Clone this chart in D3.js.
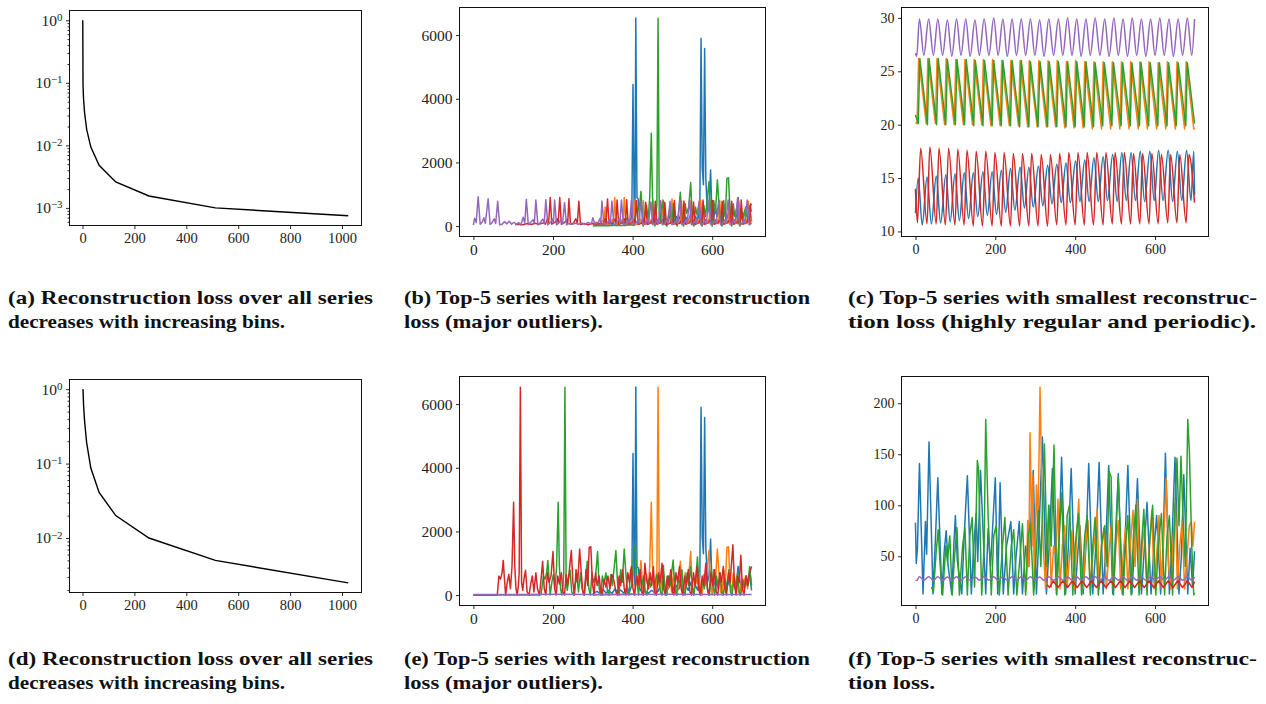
<!DOCTYPE html>
<html>
<head>
<meta charset="utf-8">
<script src="https://cdn.jsdelivr.net/npm/d3@7"></script>
<style>
  body { margin: 0; background: #fff; }
  .tick text { fill: #222; }
</style>
</head>
<body>
<svg id="fig" width="1266" height="704"></svg>
<script>
// ---- panel (a) and (d): loss vs number of bins ----
var bins = [1, 2, 4, 8, 16, 32, 64, 128, 256, 512, 1024];
var lossA = [1.0, 0.09, 0.055, 0.033, 0.018, 0.0094, 0.0048, 0.0026, 0.00155, 0.001, 0.00075];
var lossD = [1.0, 0.97, 0.62, 0.37, 0.19, 0.087, 0.041, 0.020, 0.010, 0.0050, 0.0025];

// ---- panel (b): top-5 largest loss ----
var bBlue = [[300,40],[310,120],[318,60],[326,180],[333,60],[340,150],[348,50],[356,200],[362,70],[370,160],[378,60],[386,250],[392,90],[398,300],[401,4450],[404,600],[406,300],[408,6540],[411,900],[414,850],[418,200],[424,80],[432,120],[440,60],[448,150],[456,60],[464,120],[470,300],[476,820],[480,300],[486,150],[492,250],[498,520],[504,120],[510,300],[516,180],[522,420],[528,120],[534,280],[540,150],[546,400],[552,120],[558,300],[564,150],[569,600],[572,5900],[575,1800],[578,1300],[581,5580],[584,1500],[588,400],[592,600],[596,1760],[599,500],[603,200],[608,600],[612,300],[618,500],[624,200],[630,450],[636,150],[642,480],[648,200],[654,420],[660,250],[665,900],[670,400],[676,200],[682,500],[688,300],[694,600],[699,150]];
var bOrange = [[300,60],[306,120],[312,50],[320,100],[326,180],[328,80],[331,600],[335,40],[344,100],[350,220],[352,90],[355,900],[359,50],[368,100],[374,220],[376,90],[379,900],[383,50],[392,100],[398,200],[400,80],[403,850],[407,40],[416,90],[422,200],[424,80],[427,800],[431,50],[440,90],[446,200],[448,80],[451,820],[455,50],[464,100],[470,200],[472,80],[475,800],[479,50],[488,100],[494,220],[496,90],[499,850],[503,50],[512,100],[518,200],[520,80],[523,790],[527,50],[536,100],[542,200],[544,80],[547,800],[551,50],[560,100],[566,220],[568,90],[571,820],[575,50],[584,100],[590,200],[592,80],[595,780],[599,50],[608,100],[614,200],[616,80],[619,800],[623,50],[632,100],[638,220],[640,90],[643,820],[647,50],[656,100],[662,200],[664,80],[667,780],[671,50],[680,100],[686,200],[688,80],[691,780],[695,50],[699,300]];
var bGreen = [[300,0],[320,20],[340,10],[360,30],[380,20],[396,40],[404,20],[410,600],[414,500],[418,700],[421,1090],[424,500],[427,0],[431,400],[435,650],[439,200],[443,900],[447,2920],[450,900],[453,200],[456,0],[459,300],[461,700],[464,6530],[467,400],[470,150],[473,500],[477,780],[481,100],[486,0],[490,350],[494,600],[498,100],[503,700],[507,200],[512,0],[516,500],[520,1060],[524,200],[528,0],[532,700],[536,400],[541,600],[546,1370],[550,200],[554,0],[558,600],[562,350],[567,700],[571,100],[575,0],[579,650],[583,300],[588,900],[592,1400],[596,400],[600,0],[604,800],[608,400],[613,1450],[617,700],[621,100],[625,0],[629,800],[633,300],[637,1500],[641,1520],[645,400],[649,0],[653,700],[657,300],[662,600],[666,100],[670,0],[674,500],[679,250],[684,600],[689,200],[694,650],[699,450]];
var bRed = [[105,40],[115,60],[125,40],[135,80],[145,50],[155,90],[165,60],[175,100],[181,60],[186,230],[189,100],[193,900],[197,60],[205,120],[211,230],[213,100],[217,900],[221,60],[229,110],[235,200],[237,90],[240,860],[244,60],[252,100],[257,230],[261,90],[265,780],[269,50],[278,80],[288,40],[298,90],[308,50],[318,80],[326,60],[331,230],[333,100],[337,850],[341,60],[350,110],[356,220],[358,90],[361,820],[365,60],[374,100],[380,230],[382,90],[385,830],[389,60],[398,100],[404,200],[406,80],[410,800],[414,50],[422,90],[428,200],[430,80],[433,750],[437,60],[446,100],[452,220],[454,90],[457,780],[461,60],[470,100],[476,200],[478,80],[481,750],[485,50],[494,90],[500,200],[502,80],[505,800],[509,60],[518,90],[524,200],[526,80],[529,790],[533,60],[542,100],[548,200],[550,80],[553,760],[557,50],[566,100],[572,230],[574,90],[577,820],[581,60],[590,100],[596,220],[598,90],[601,800],[605,60],[614,100],[620,200],[622,80],[625,780],[629,60],[638,100],[644,200],[646,80],[649,780],[653,60],[662,100],[668,220],[670,90],[673,820],[677,60],[686,100],[692,230],[694,90],[697,700],[699,650]];
var bPurple = [[0,30],[3,250],[7,110],[12,920],[17,60],[22,120],[26,260],[30,90],[37,860],[42,50],[47,110],[52,230],[56,80],[61,780],[66,40],[72,60],[78,140],[84,70],[90,150],[96,60],[102,120],[108,60],[114,110],[119,30],[125,280],[129,90],[133,840],[138,40],[144,120],[150,200],[153,80],[157,820],[162,40],[168,100],[174,220],[178,80],[182,830],[187,40],[193,110],[199,220],[201,90],[204,820],[209,40],[214,90],[220,200],[224,70],[229,740],[234,40],[240,80],[248,60],[256,90],[264,60],[272,100],[280,50],[288,120],[296,60],[300,260],[305,70],[312,80],[318,240],[320,90],[323,790],[328,40],[336,90],[342,200],[344,80],[348,790],[353,40],[360,90],[366,220],[368,80],[372,820],[377,40],[384,90],[390,200],[392,80],[397,800],[402,40],[408,90],[414,200],[416,80],[421,780],[426,40],[432,90],[438,200],[440,80],[446,760],[451,40],[458,90],[463,200],[465,80],[470,800],[475,40],[482,90],[487,200],[489,80],[494,780],[499,40],[506,90],[511,200],[513,80],[519,800],[524,40],[530,90],[535,210],[537,80],[543,830],[548,40],[554,90],[559,200],[561,80],[567,780],[572,40],[578,90],[583,200],[585,80],[592,800],[597,40],[603,90],[608,200],[610,80],[616,780],[621,40],[627,90],[632,200],[634,80],[640,820],[645,40],[651,90],[656,210],[658,80],[664,900],[669,40],[675,90],[680,200],[682,80],[688,820],[693,40],[699,100]];

// ---- panel (c): top-5 smallest loss (turning points of periodic series) ----
var cBlue = [[0,11.7],[7,15.0],[17,10.6],[29,15.1],[40,10.7],[52,15.2],[63,10.8],[76,15.3],[87,10.9],[99,15.4],[110,11.0],[122,15.5],[133,11.2],[145,15.5],[156,11.4],[169,15.6],[180,11.5],[192,15.6],[203,11.6],[215,15.7],[226,11.8],[238,15.9],[249,12.0],[262,16.0],[273,12.2],[284,16.0],[295,12.3],[308,16.1],[319,12.4],[331,16.2],[342,12.6],[354,16.3],[365,12.7],[377,16.4],[388,12.7],[401,16.6],[412,12.8],[424,16.7],[435,12.8],[447,16.9],[458,12.8],[470,17.0],[481,12.9],[494,17.2],[505,12.8],[517,17.4],[528,12.9],[540,17.4],[551,12.9],[563,17.5],[574,12.8],[587,17.5],[598,12.9],[609,17.6],[620,12.9],[633,17.6],[644,12.8],[656,17.5],[667,12.9],[679,17.6],[690,12.9],[697,17.5],[699,13.4]];
var cOrange = [[0,20.2],[4,20.1],[8,26.2],[27,20.1],[31,26.2],[50,20.1],[54,26.2],[73,20.0],[77,26.2],[97,20.0],[101,26.1],[120,20.0],[124,26.1],[143,20.0],[147,26.1],[166,20.0],[170,26.1],[189,19.9],[193,26.1],[212,19.9],[216,26.0],[235,19.9],[239,26.0],[258,19.9],[262,26.0],[281,19.8],[285,26.0],[305,19.8],[309,26.0],[328,19.8],[332,26.0],[351,19.8],[355,26.0],[374,19.7],[378,25.9],[397,19.7],[401,26.0],[420,19.7],[424,25.9],[443,19.6],[447,25.9],[466,19.6],[470,25.9],[489,19.6],[493,25.9],[512,19.6],[516,25.9],[535,19.6],[539,25.9],[558,19.6],[562,25.9],[581,19.6],[585,25.9],[604,19.6],[608,25.8],[627,19.6],[631,25.9],[651,19.6],[655,25.9],[674,19.6],[678,25.9],[697,19.6],[699,19.7]];
var cGreen = [[0,20.9],[7,20.1],[11,26.2],[30,20.0],[34,26.2],[53,20.0],[57,26.2],[76,20.0],[80,26.1],[100,20.0],[104,26.1],[123,20.0],[127,26.1],[146,19.9],[150,26.0],[169,19.9],[173,26.0],[192,19.9],[196,26.0],[215,19.9],[219,26.0],[238,19.9],[242,26.0],[261,19.8],[265,26.0],[284,19.8],[288,25.9],[307,19.8],[312,25.9],[331,19.8],[335,25.9],[354,19.8],[358,25.9],[377,19.8],[381,25.9],[400,19.8],[404,25.9],[423,19.8],[427,25.9],[446,19.8],[450,25.8],[469,19.9],[473,25.8],[492,19.9],[496,25.8],[515,19.9],[519,25.8],[538,19.9],[542,25.8],[561,19.9],[565,25.8],[584,19.9],[588,25.8],[607,19.9],[611,25.8],[630,19.9],[634,25.8],[653,19.9],[658,25.8],[677,19.9],[681,25.8],[699,20.1]];
var cRed = [[0,14.0],[5,10.8],[13,17.8],[29,10.7],[36,17.9],[52,10.7],[59,17.8],[75,10.6],[83,17.8],[99,10.6],[106,17.7],[122,10.6],[129,17.6],[145,10.5],[152,17.5],[168,10.5],[176,17.5],[192,10.5],[199,17.4],[215,10.5],[222,17.4],[238,10.5],[245,17.3],[261,10.5],[268,17.3],[284,10.5],[291,17.3],[307,10.5],[315,17.2],[331,10.5],[338,17.2],[354,10.6],[361,17.3],[377,10.6],[384,17.4],[400,10.6],[407,17.4],[423,10.6],[430,17.4],[446,10.6],[454,17.4],[470,10.6],[477,17.4],[493,10.7],[500,17.4],[516,10.7],[523,17.4],[539,10.7],[546,17.3],[562,10.7],[569,17.3],[585,10.7],[592,17.3],[608,10.7],[616,17.2],[632,10.8],[639,17.2],[655,10.8],[662,17.2],[678,10.8],[685,17.2],[699,12.7]];
var cPurple = [[0,26.7],[3,26.4],[10,29.9],[21,26.5],[33,29.9],[45,26.5],[56,29.9],[68,26.5],[80,29.8],[91,26.4],[103,29.9],[114,26.5],[126,29.9],[137,26.4],[149,29.8],[160,26.5],[172,29.9],[184,26.5],[196,30.0],[207,26.5],[219,29.9],[230,26.4],[242,29.9],[253,26.5],[265,29.9],[276,26.5],[288,29.9],[299,26.5],[311,29.8],[322,26.4],[334,29.9],[346,26.5],[358,29.9],[369,26.5],[381,30.0],[392,26.5],[404,29.9],[415,26.4],[427,29.9],[438,26.5],[450,30.0],[462,26.5],[474,29.9],[485,26.4],[497,30.0],[508,26.5],[520,29.9],[531,26.4],[543,30.0],[554,26.5],[566,29.9],[577,26.4],[589,29.9],[600,26.5],[612,30.0],[623,26.5],[635,29.9],[646,26.4],[658,29.9],[669,26.5],[681,30.0],[692,26.5],[699,29.9]];

// ---- panel (e): top-5 largest loss, second run ----
var eBlue = bBlue;
var eOrange = bGreen;
var eGreen = [[0,0],[166,0],[170,20],[176,600],[180,500],[184,700],[187,1090],[190,500],[193,0],[197,400],[201,650],[205,200],[209,900],[213,2920],[216,900],[219,200],[222,0],[225,300],[227,700],[230,6530],[233,400],[236,150],[239,500],[243,780],[247,100],[252,0],[256,350],[260,600],[264,100],[269,700],[273,200],[278,0],[282,500],[286,1060],[290,200],[294,0],[298,700],[302,400],[307,600],[312,1370],[316,200],[320,0],[324,600],[328,350],[333,700],[337,100],[341,0],[345,650],[349,300],[354,900],[358,1400],[362,400],[366,0],[370,800],[374,400],[379,1450],[383,700],[387,100],[391,0],[395,800],[399,300],[403,1500],[407,1520],[411,400],[415,0],[419,700],[423,300],[428,600],[432,100],[436,0],[440,500],[445,250],[450,600],[455,200],[460,650],[465,450],[470,100],[474,0],[477,940],[481,300],[485,0],[490,600],[494,300],[498,700],[502,1100],[506,200],[510,0],[515,600],[519,300],[524,800],[528,100],[532,0],[537,700],[541,300],[546,900],[550,200],[554,0],[559,600],[563,1200],[567,300],[571,0],[576,500],[580,200],[585,700],[589,100],[593,0],[598,800],[602,300],[606,0],[611,600],[615,200],[620,700],[624,100],[628,0],[633,500],[637,200],[642,800],[646,100],[650,0],[655,600],[659,200],[664,700],[668,100],[672,0],[677,500],[681,200],[686,600],[690,300],[694,900],[699,300]];
var eRed = [[0,0],[60,0],[64,600],[68,500],[72,700],[75,1090],[78,500],[81,0],[85,400],[89,650],[93,200],[97,900],[101,2920],[104,900],[107,200],[110,0],[113,300],[115,700],[118,6530],[121,400],[124,150],[127,500],[131,780],[135,100],[140,0],[144,350],[148,600],[152,100],[157,700],[161,200],[166,0],[170,500],[174,1060],[178,200],[182,0],[186,700],[190,400],[195,600],[200,1370],[204,200],[208,0],[212,600],[216,350],[221,700],[225,100],[229,0],[233,650],[237,300],[242,900],[246,1400],[250,400],[254,0],[258,800],[262,400],[267,1450],[271,700],[275,100],[279,0],[283,800],[287,300],[291,1500],[295,1520],[299,400],[303,0],[307,700],[311,300],[316,600],[320,100],[324,0],[328,500],[333,250],[338,600],[343,200],[348,650],[353,450],[358,100],[362,0],[366,600],[370,300],[375,800],[379,200],[383,0],[388,700],[392,400],[397,900],[401,200],[405,0],[410,600],[414,300],[419,800],[423,100],[427,0],[431,1000],[435,500],[440,200],[444,700],[448,300],[452,900],[456,100],[460,0],[465,700],[469,400],[474,1000],[478,200],[482,0],[487,600],[491,300],[496,800],[500,100],[504,0],[509,700],[513,400],[518,900],[522,200],[526,0],[531,600],[535,300],[540,800],[544,100],[548,0],[553,700],[557,300],[562,900],[566,200],[570,0],[575,600],[579,300],[584,1000],[588,200],[592,0],[597,700],[601,300],[606,800],[610,100],[614,0],[619,700],[623,400],[628,900],[632,200],[636,0],[641,700],[645,400],[652,1580],[656,300],[660,0],[664,600],[668,400],[672,1250],[676,200],[680,0],[685,600],[689,300],[694,700],[699,900]];
var ePurple = [[0,20],[100,15],[200,25],[300,20],[400,15],[500,25],[600,20],[699,20]];

// ---- panel (f): top-5 smallest loss, second run ----
var fBlue = [[0,83],[2,43],[5,58],[10,141],[19,13],[25,84],[28,52],[34,162],[44,13],[50,67],[56,127],[66,13],[72,55],[77,75],[82,40],[91,13],[96,60],[100,90],[105,45],[116,13],[122,70],[130,129],[140,13],[146,60],[152,92],[156,45],[163,134],[176,13],[182,77],[188,40],[200,127],[206,13],[212,122],[220,13],[228,60],[239,84],[246,13],[252,50],[260,84],[268,13],[276,60],[284,40],[295,134],[303,13],[310,80],[318,167],[328,13],[335,60],[343,136],[353,13],[360,70],[366,147],[376,13],[383,60],[390,136],[400,13],[406,50],[412,80],[420,13],[427,60],[434,141],[444,13],[452,60],[460,142],[470,13],[476,55],[484,139],[494,13],[500,60],[508,131],[518,13],[524,55],[532,139],[542,13],[548,55],[556,126],[566,13],[572,50],[580,103],[590,13],[596,50],[604,90],[614,13],[620,55],[626,151],[636,13],[642,60],[650,147],[660,13],[666,50],[672,130],[682,13],[688,58],[694,20],[699,55]];
var fOrange = [[275,15],[278,20],[281,85],[284,40],[287,171],[292,60],[294,130],[298,18],[303,120],[307,80],[312,216],[316,130],[320,60],[326,18],[330,70],[334,100],[340,20],[346,60],[352,50],[357,106],[362,18],[368,60],[374,80],[380,20],[386,50],[392,75],[398,18],[404,70],[409,106],[414,40],[420,18],[426,60],[432,85],[438,18],[444,50],[450,70],[455,96],[460,18],[466,60],[472,78],[478,18],[484,50],[490,80],[496,18],[502,60],[508,85],[514,18],[520,50],[526,78],[532,18],[538,60],[545,95],[550,40],[556,106],[562,18],[568,60],[574,80],[580,18],[586,60],[592,95],[598,18],[604,50],[610,90],[616,18],[622,70],[628,127],[634,40],[640,18],[646,70],[651,102],[656,18],[662,60],[668,85],[674,18],[680,50],[686,80],[691,84],[695,60],[699,84]];
var fGreen = [[40,20],[45,15],[52,55],[57,76],[62,40],[68,12],[76,60],[80,45],[86,70],[92,12],[98,50],[104,78],[110,12],[118,60],[124,78],[130,12],[136,70],[142,88],[148,20],[155,144],[158,135],[166,12],[172,60],[176,184],[182,90],[190,12],[196,70],[202,80],[210,12],[218,60],[224,88],[232,12],[240,60],[246,76],[254,12],[262,50],[268,82],[276,12],[282,70],[288,82],[296,12],[302,50],[308,95],[314,40],[323,160],[330,40],[334,100],[340,60],[347,159],[354,12],[360,70],[366,112],[374,12],[380,90],[386,100],[394,12],[400,60],[408,92],[416,12],[424,70],[430,90],[438,12],[444,60],[450,88],[458,12],[466,60],[474,80],[480,40],[485,133],[490,128],[496,12],[502,70],[508,127],[514,60],[520,12],[526,60],[532,90],[540,12],[546,70],[552,100],[560,12],[566,60],[572,96],[580,12],[586,60],[594,100],[602,12],[608,60],[616,92],[624,12],[630,70],[636,90],[644,12],[650,100],[655,146],[660,80],[665,148],[670,90],[676,40],[682,184],[686,154],[692,60],[697,12],[699,14]];
var fRed = [[330,22],[336,19.5],[345,26],[357,19.5],[369,26],[381,19.5],[393,26],[405,19.5],[417,26],[429,19.5],[441,26],[453,19.5],[465,26],[477,19.5],[489,26],[501,19.5],[513,26],[525,19.5],[537,26],[549,19.5],[561,26],[573,19.5],[585,26],[597,19.5],[609,26],[621,19.5],[633,26],[645,19.5],[657,26],[669,19.5],[681,26],[693,19.5],[699,25]];
var fPurple = cPurple;

var C = {blue: "#1f77b4", orange: "#ff7f0e", green: "#2ca02c", red: "#d62728", purple: "#9467bd"};

var svg = d3.select("#fig");
var serif = "'Liberation Serif', 'Times New Roman', serif";

function drawFrame(box) {
    svg.append("rect")
        .attr("x", box.left).attr("y", box.top)
        .attr("width", box.right - box.left).attr("height", box.bottom - box.top)
        .attr("fill", "none").attr("stroke", "#111").attr("stroke-width", 1);
}

function styleAxis(g, fs) {
    g.select(".domain").remove();
    g.selectAll(".tick line").attr("stroke", "#111").attr("stroke-width", 0.9);
    g.selectAll(".tick text").attr("font-family", serif).attr("font-size", fs);
}

function padded(ext) {
    var p = (ext[1] - ext[0]) * 0.05;
    return [ext[0] - p, ext[1] + p];
}

// line panel for the time-series plots
function linePanel(id, box, series, yTicks, fs) {
    var all = series.reduce(function(a, s) { return a.concat(s.data); }, []);
    var x = d3.scaleLinear().domain(padded(d3.extent(all, d => d[0]))).range([box.left, box.right]);
    var y = d3.scaleLinear().domain(padded(d3.extent(all, d => d[1]))).range([box.bottom, box.top]);

    svg.append("clipPath").attr("id", "clip" + id).append("rect")
        .attr("x", box.left).attr("y", box.top)
        .attr("width", box.right - box.left).attr("height", box.bottom - box.top);

    var plot = svg.append("g").attr("clip-path", "url(#clip" + id + ")");
    series.forEach(function(s) {
        var line = d3.line().x(d => x(d[0])).y(d => y(d[1])).curve(s.curve || d3.curveLinear);
        plot.append("path").datum(s.data)
            .attr("d", line)
            .attr("fill", "none")
            .attr("stroke", s.color)
            .attr("stroke-width", 1.5)
            .attr("stroke-linejoin", "round");
    });

    var xAxis = svg.append("g")
        .attr("transform", `translate(0, ${box.bottom})`)
        .call(d3.axisBottom(x).tickValues([0, 200, 400, 600]).tickSize(3.5).tickPadding(4).tickFormat(d3.format("d")));
    styleAxis(xAxis, fs);

    var yAxis = svg.append("g")
        .attr("transform", `translate(${box.left}, 0)`)
        .call(d3.axisLeft(y).tickValues(yTicks).tickSize(3.5).tickPadding(3.5).tickFormat(d3.format("d")));
    styleAxis(yAxis, fs);

    drawFrame(box);
}

// log panel for the loss curves
function logPanel(box, xs, ys, fs) {
    var x = d3.scaleLinear().domain(padded(d3.extent(xs))).range([box.left, box.right]);
    var ly = padded(d3.extent(ys).map(Math.log10));
    var y = d3.scaleLog().domain([Math.pow(10, ly[0]), Math.pow(10, ly[1])]).range([box.bottom, box.top]);

    var majors = [], minors = [];
    for (var e = Math.floor(ly[0]); e <= Math.ceil(ly[1]); e++) {
        for (var k = 1; k < 10; k++) {
            var v = k * Math.pow(10, e);
            if (v < y.domain()[0] || v > y.domain()[1]) continue;
            if (k === 1) majors.push(v); else minors.push(v);
        }
    }

    svg.append("path")
        .datum(xs.map((d, i) => [d, ys[i]]))
        .attr("d", d3.line().x(d => x(d[0])).y(d => y(d[1])))
        .attr("fill", "none")
        .attr("stroke", "#000")
        .attr("stroke-width", 1.4);

    var xAxis = svg.append("g")
        .attr("transform", `translate(0, ${box.bottom})`)
        .call(d3.axisBottom(x).tickValues([0, 200, 400, 600, 800, 1000]).tickSize(3.5).tickPadding(3.5).tickFormat(d3.format("d")));
    styleAxis(xAxis, fs);

    var minorAxis = svg.append("g")
        .attr("transform", `translate(${box.left}, 0)`)
        .call(d3.axisLeft(y).tickValues(minors).tickSize(2).tickFormat(""));
    styleAxis(minorAxis, fs);

    var yAxis = svg.append("g")
        .attr("transform", `translate(${box.left}, 0)`)
        .call(d3.axisLeft(y).tickValues(majors).tickSize(3.5).tickPadding(3.5).tickFormat(""));
    styleAxis(yAxis, fs + 1);
    yAxis.selectAll(".tick text").each(function(d) {
        var t = d3.select(this);
        t.append("tspan").text("10");
        t.append("tspan").attr("dy", "-0.45em").attr("font-size", "0.7em")
            .text(String(Math.round(Math.log10(d))).replace("-", "\u2212"));
    });

    drawFrame(box);
}

logPanel({left: 69.5, top: 10.5, right: 361.5, bottom: 225.5}, bins, lossA, 14.5);
linePanel("b", {left: 459.5, top: 7.5, right: 765.5, bottom: 236.5},
    [{data: bBlue, color: C.blue}, {data: bOrange, color: C.orange}, {data: bGreen, color: C.green},
     {data: bRed, color: C.red}, {data: bPurple, color: C.purple}],
    [0, 2000, 4000, 6000], 15.5);
linePanel("c", {left: 901.5, top: 7.5, right: 1208.5, bottom: 236.5},
    [{data: cBlue, color: C.blue, curve: d3.curveMonotoneX}, {data: cOrange, color: C.orange},
     {data: cGreen, color: C.green}, {data: cRed, color: C.red, curve: d3.curveMonotoneX},
     {data: cPurple, color: C.purple, curve: d3.curveMonotoneX}],
    [10, 15, 20, 25, 30], 14);
logPanel({left: 69.5, top: 379.5, right: 361.5, bottom: 592.5}, bins, lossD, 14.5);
linePanel("e", {left: 459.5, top: 376.5, right: 765.5, bottom: 605.5},
    [{data: eBlue, color: C.blue}, {data: eOrange, color: C.orange}, {data: eGreen, color: C.green},
     {data: eRed, color: C.red}, {data: ePurple, color: C.purple}],
    [0, 2000, 4000, 6000], 15.5);
linePanel("f", {left: 901.5, top: 376.5, right: 1208.5, bottom: 605.5},
    [{data: fBlue, color: C.blue}, {data: fOrange, color: C.orange}, {data: fGreen, color: C.green},
     {data: fRed, color: C.red}, {data: fPurple, color: C.purple, curve: d3.curveMonotoneX}],
    [50, 100, 150, 200], 14);

// sub-figure captions
var captions = [
    {x: 8, y: 304, w: 365, t: "(a) Reconstruction loss over all series"},
    {x: 8, y: 328, w: 277, t: "decreases with increasing bins."},
    {x: 404, y: 304, w: 406, t: "(b) Top-5 series with largest reconstruction"},
    {x: 404, y: 328, w: 199, t: "loss (major outliers)."},
    {x: 848, y: 304, w: 409, t: "(c) Top-5 series with smallest reconstruc-"},
    {x: 848, y: 328, w: 408, t: "tion loss (highly regular and periodic)."},
    {x: 8, y: 665, w: 365, t: "(d) Reconstruction loss over all series"},
    {x: 8, y: 689, w: 277, t: "decreases with increasing bins."},
    {x: 404, y: 665, w: 406, t: "(e) Top-5 series with largest reconstruction"},
    {x: 404, y: 689, w: 199, t: "loss (major outliers)."},
    {x: 848, y: 665, w: 409, t: "(f) Top-5 series with smallest reconstruc-"},
    {x: 848, y: 689, w: 87, t: "tion loss."}
];
svg.selectAll("text.caption")
    .data(captions)
    .enter()
    .append("text")
    .attr("class", "caption")
    .attr("x", d => d.x)
    .attr("y", d => d.y)
    .attr("textLength", d => d.w)
    .attr("lengthAdjust", "spacingAndGlyphs")
    .attr("font-family", serif)
    .attr("font-weight", "bold")
    .attr("font-size", 19.5)
    .attr("fill", "#111")
    .text(d => d.t);
</script>
</body>
</html>
